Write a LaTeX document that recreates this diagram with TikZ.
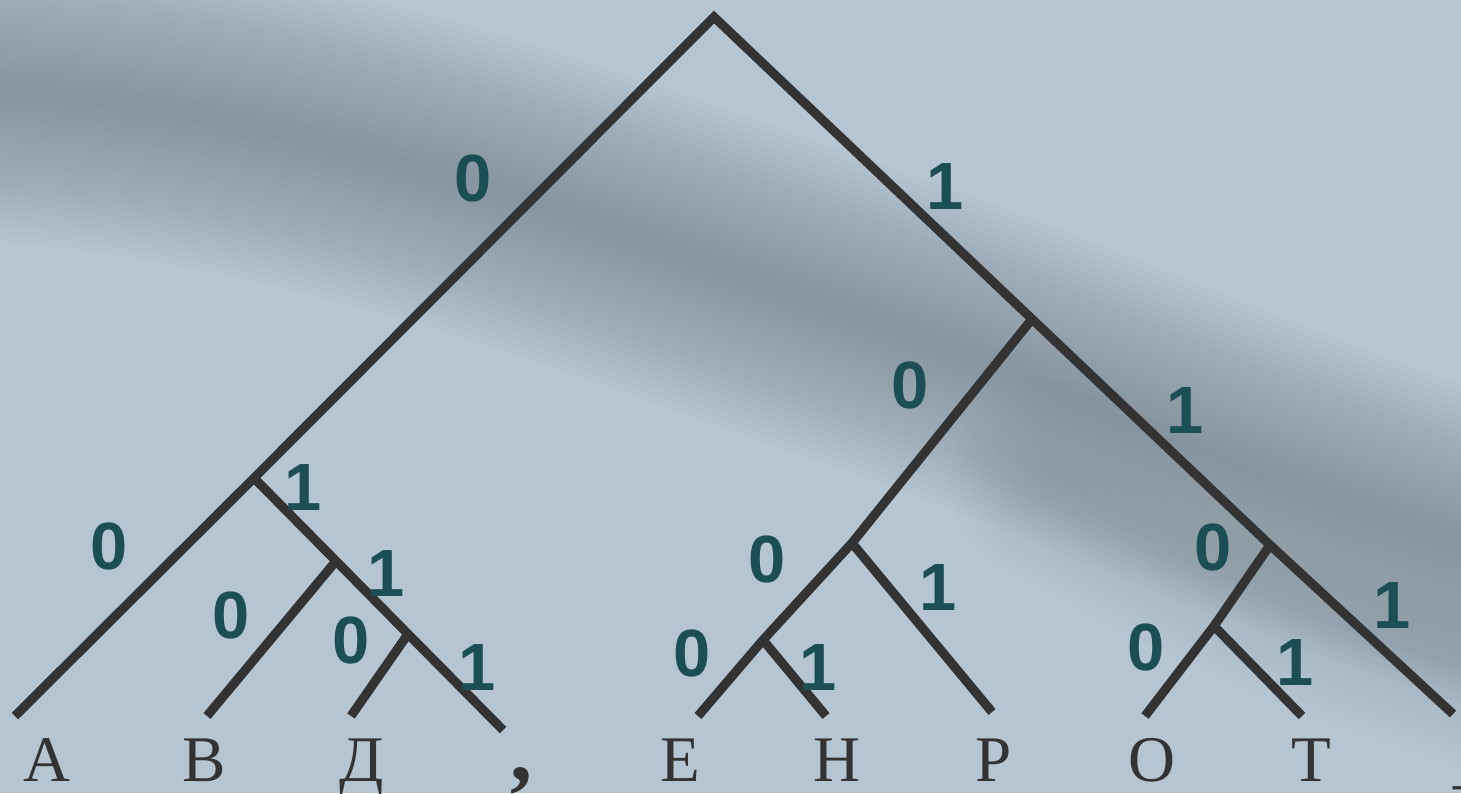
\documentclass[tikz,border=0pt]{standalone}
\usepackage{fontspec}
\setmainfont{Liberation Serif}
\newfontfamily\bitfont{Liberation Sans}
\definecolor{bglight}{RGB}{181,197,209}
\definecolor{bgdark}{RGB}{98,112,118}
\definecolor{edgegray}{RGB}{51,51,51}
\definecolor{bitteal}{RGB}{27,78,85}
\tikzset{
  edge/.style={edgegray,line width=2.6pt,line join=miter},
  bit/.style={bitteal,font=\bitfont\bfseries\fontsize{19}{19}\selectfont,inner sep=0pt},
  leaf/.style={edgegray,font=\fontsize{18.5}{18.5}\selectfont,inner sep=0pt,anchor=base},
}

\begin{document}
\begin{tikzpicture}[x=0.01cm,y=-0.01cm]
\useasboundingbox (0,0) rectangle (1461,793);
% background
\fill[bglight] (0,0) rectangle (1461,793);
\begin{scope}
\clip (0,0) rectangle (1461,793);
\foreach \w in {15,30,...,300}
  \draw[bgdark,opacity=0.033,line width=\w*0.2845pt,line cap=round] (-150,82) .. controls (300,90) and (600,230) .. (900,330) .. controls (1150,420) and (1350,520) .. (1650,600);
\foreach \w in {20,40,...,200}
  \draw[bgdark,opacity=0.02,line width=\w*0.2845pt,line cap=round] (1050,480) .. controls (1200,560) and (1350,640) .. (1600,700);
\end{scope}
% tree points
\coordinate (root) at (714,17);
\coordinate (n0) at (254,478);
\coordinate (n01) at (336,561);
\coordinate (n011) at (408,634);
\coordinate (n1) at (1032,319);
\coordinate (n10) at (852,543);
\coordinate (n100) at (763,640);
\coordinate (n11) at (1270,545);
\coordinate (n110) at (1214,626);
\coordinate (lA) at (15,716);
\coordinate (lB) at (207,716);
\coordinate (lD) at (351,716);
\coordinate (lC) at (503,730);
\coordinate (lE) at (698,716);
\coordinate (lH) at (826,716);
\coordinate (lP) at (992,712);
\coordinate (lO) at (1145,716);
\coordinate (lT) at (1302,716);
\coordinate (lS) at (1453,714);
% edges
\draw[edge] (lA)--(n0)--(root)--(n1)--(n11)--(lS);
\draw[edge] (n0)--(n01)--(n011)--(lC);
\draw[edge] (n01)--(lB);\draw[edge] (n011)--(lD);
\draw[edge] (n1)--(n10)--(n100)--(lE);
\draw[edge] (n100)--(lH);\draw[edge] (n10)--(lP);
\draw[edge] (n11)--(n110)--(lO);\draw[edge] (n110)--(lT);
% bits
\foreach \x/\y/\b [count=\i] in {473/178/0,945/187/1,910/385/0,1185/410/1,
  303/487/1,109/546/0,386/573/1,231/615/0,351/640/0,477/667/1,
  767/559/0,938/587/1,692/653/0,818/667/1,
  1213/547/0,1392/605/1,1146/647/0,1295/662/1}
  \node[bit] (b\i) at (\x,\y) {\b};
% leaves
\node[leaf] (tA) at (47,781) {А};
\node[leaf] (tB) at (204,781) {В};
\node[leaf] (tD) at (362,781) {Д};
\node[leaf,font=\bfseries\fontsize{25}{25}\selectfont] (tC) at (521,780) {,};
\node[leaf] (tE) at (680,781) {Е};
\node[leaf] (tH) at (837,781) {Н};
\node[leaf] (tP) at (994,781) {Р};
\node[leaf] (tO) at (1152,781) {О};
\node[leaf] (tT) at (1311,781) {Т};
\node[leaf,anchor=base west] (tS) at (1453,781) {\_};
\end{tikzpicture}
\end{document}
